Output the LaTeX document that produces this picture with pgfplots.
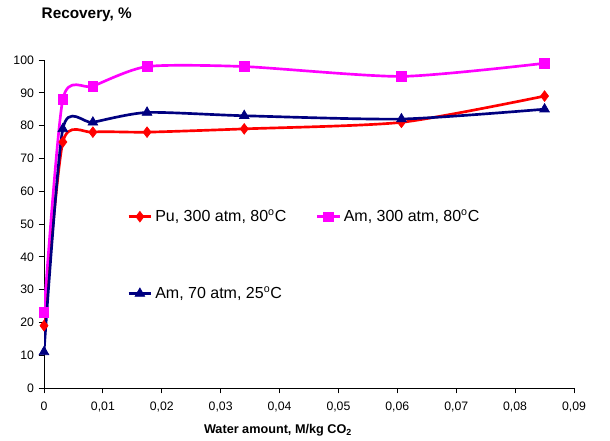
\documentclass[border=0pt]{standalone}
\usepackage{pgfplots}
\pgfplotsset{compat=1.18}
\usepackage{fontspec}
\setmainfont{Liberation Sans}
\definecolor{navy}{HTML}{000080}
\definecolor{mag}{HTML}{FF00FF}
\definecolor{rd}{HTML}{FF0000}
\begin{document}
\begin{tikzpicture}
\begin{axis}[
  name=ax,
  scale only axis,
  width=397.5pt, height=246pt,
  xmin=0, xmax=0.09, ymin=0, ymax=100,
  axis x line*=bottom, axis y line*=left,
  axis line style={black, line width=0.6pt},
  xtick={0,0.01,...,0.09},
  ytick={0,10,...,100},
  tick align=outside,
  major tick length=4pt,
  tick style={black, line width=0.6pt},
  /pgf/number format/assume math mode=true,
  xticklabel style={/pgf/number format/fixed, /pgf/number format/precision=2, /pgf/number format/use comma, yshift=-3pt},
  scaled x ticks=false,
  tick label style={font=\fontsize{9.2}{11}\selectfont},
  legend columns=2,
  legend cell align=left,
  legend style={draw=none, fill=none, at={(axis cs:0.0134,56)}, anchor=north west,
    font=\fontsize{12}{14}\selectfont,
    /tikz/every even column/.append style={column sep=20pt},
    row sep=43.5pt},
  every axis plot/.append style={smooth, tension=0.4, line width=2pt},
]
\addplot[rd, mark=diamond*, mark size=4pt, mark options={solid, fill=rd, line width=0.5pt}] coordinates {
 (0,19) (0.0032,75) (0.0083,78) (0.0175,78) (0.034,79) (0.0607,81) (0.085,89)};
\addlegendentry{Pu, 300 atm, 80\textsuperscript{o}C}
\addplot[mag, mark=square*, mark size=3.6pt, mark options={solid, fill=mag, line width=0.5pt}] coordinates {
 (0,23) (0.0032,88) (0.0083,92) (0.0175,98) (0.034,98) (0.0607,95) (0.085,99)};
\addlegendentry{Am, 300 atm, 80\textsuperscript{o}C}
\addplot[navy, mark=triangle*, mark size=4.2pt, mark options={solid, fill=navy, line width=0.5pt}] coordinates {
 (0,11) (0.0032,79) (0.0083,81) (0.0175,84) (0.034,83) (0.0607,82) (0.085,85)};
\addlegendentry{Am, 70 atm, 25\textsuperscript{o}C}
\end{axis}
\node[anchor=west, font=\bfseries\fontsize{11.5}{13}\selectfont] at ([xshift=-5.25pt, yshift=33.75pt]ax.north west) {Recovery, \%};
\node[font=\bfseries\fontsize{9.5}{11}\selectfont] at ([xshift=175.5pt, yshift=-31.5pt]ax.south west) {Water amount, M/kg CO\textsubscript{2}};
\path[use as bounding box] ([xshift=-33pt, yshift=-39.75pt]ax.south west) rectangle ++(457.5pt,330.75pt);
\end{tikzpicture}
\end{document}
